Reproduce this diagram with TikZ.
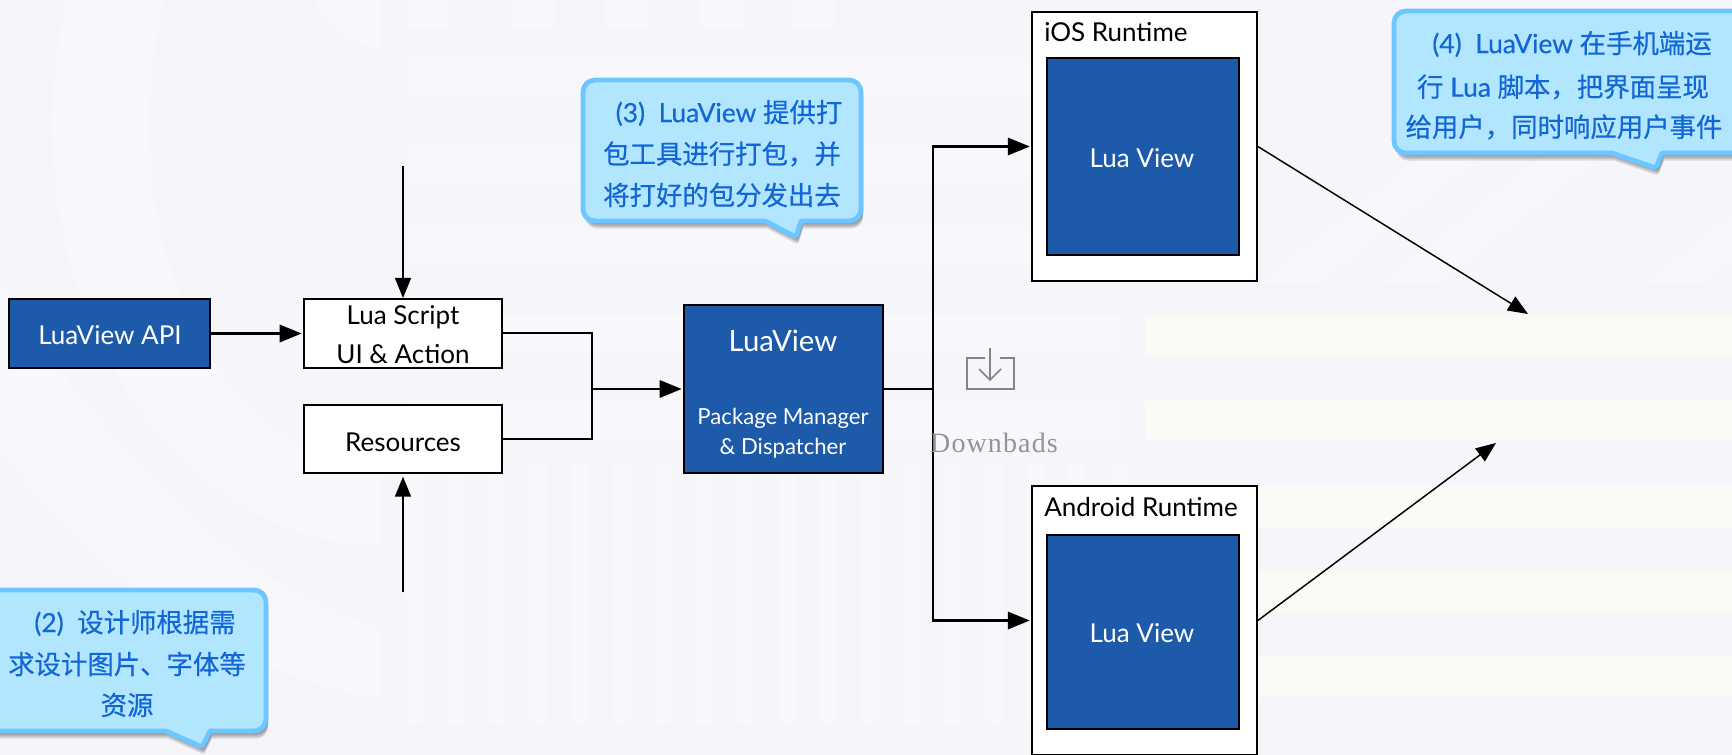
\documentclass[tikz,border=0pt]{standalone}
\usepackage{fontspec}
\usetikzlibrary{arrows.meta,calc}
\setmainfont{Lato}
\newfontfamily\cjk[FakeBold=0.5]{Noto Sans CJK SC}
\newfontfamily\calllatin[FakeBold=0.4]{Lato}
\newfontfamily\dlfont[LetterSpace=4]{Liberation Serif}
\newcommand{\zh}[1]{{\cjk #1}}
\newcommand{\fsz}[1]{\fontsize{#1}{#1}\selectfont}
\definecolor{bgbase}{HTML}{F5F5FA}
\definecolor{bglight}{HTML}{F8F8FC}
\definecolor{bgyellow}{HTML}{FAFBF6}
\definecolor{navy}{HTML}{1E5AAA}
\definecolor{callfill}{HTML}{B2E6FF}
\definecolor{callline}{HTML}{6CC6FF}
\definecolor{calltext}{HTML}{1266D6}
\tikzset{
  x=0.75pt,y=-0.75pt,
  whitebox/.style={draw=black,fill=white,line width=1.5pt,inner sep=0pt,anchor=center},
  bluebox/.style={draw=black,fill=navy,line width=1.5pt,inner sep=0pt,anchor=center},
  frame/.style={draw=black,fill=white,line width=1.3pt,inner sep=0pt,anchor=center},
  wlabel/.style={text=white,inner sep=0pt,font=\fsz{19.5}},
  blabel/.style={text=black,inner sep=0pt,font=\fsz{19.5}},
  link/.style={draw=black,line width=1.5pt},
  flow/.style={draw=black,line width=1.7pt,-{Triangle[length=16.5pt,width=13pt]},shorten >=1pt},
  thin flow/.style={draw=black,line width=1.1pt,-{Triangle[length=15pt,width=12pt]}},
  calltxt/.style={text=calltext,inner sep=0pt,align=center,font=\calllatin\fsz{19.8},anchor=center},
  bgbar/.style={fill=bglight,draw=none},
  ybar/.style={fill=bgyellow,draw=none},
  icon/.style={draw=black!48,line width=1.4pt},
}
% callout: left,top,right,bottom,tail start x,tail end x,tip x,tip y
\newcommand{\calloutpath}[8]{
  [rounded corners=9pt] (#1,#4) -- (#1,#2) -- (#3,#2) -- (#3,#4)
  [sharp corners] -- (#6,#4) [rounded corners=2pt] -- (#7,#8) [sharp corners] -- (#5,#4)
  [rounded corners=9pt] -- cycle
}
\newcommand{\callout}[8]{
  \foreach \o in {1,2,3,4,5}{
    \fill[black,opacity=0.11,xshift=1.6pt,yshift={-\o*1.15pt}] \calloutpath{#1}{#2}{#3}{#4}{#5}{#6}{#7}{#8};
  }
  \draw[fill=callfill,draw=callline,line width=3.6pt,line join=round] \calloutpath{#1}{#2}{#3}{#4}{#5}{#6}{#7}{#8};
}
\begin{document}
\begin{tikzpicture}
\useasboundingbox (0,0) rectangle (1732,755);
\fill[bgbase] (0,0) rectangle (1732,755);
% faint watermark
\begin{scope}
\clip (0,0) rectangle (381,755);
\fill[bglight,even odd rule] (381,125) ellipse [x radius=329,y radius=420] (381,125) ellipse [x radius=232,y radius=340];
\end{scope}
\fill[bglight] (381,47) arc[start angle=90,end angle=270,x radius=72,y radius=78] -- cycle;
\fill[bglight] (0,280) .. controls (120,470) and (250,590) .. (381,628) -- (381,700) .. controls (220,670) and (90,570) .. (0,450) -- cycle;
\foreach \a/\b in {408/450,510/555,605/650,700/745,790/835}{\fill[bgbar] (\a,0) rectangle (\b,28);}
\foreach \a/\b in {57/97,143/182,226/265,315/353,400/441}{\fill[bgbar] (408,\a) rectangle (1120,\b);}
\foreach \i in {0,...,17}{\fill[bgbar] ({406+41.4*\i},463) rectangle ({423+41.4*\i},724);}
\foreach \a/\b in {315/356,401/441,485/528,571/613,657/697}{\fill[ybar] (1145,\a) rectangle (1732,\b);}
\foreach \a in {1260,1380,1645}{\fill[bglight] (\a,283) -- ({\a+60},283) -- ({\a+340},64) -- ({\a+280},64) -- cycle;}
% callouts
\callout{583}{80}{861}{221}{765}{801}{796}{237}
\callout{1394}{11}{1745}{153}{1612}{1662}{1656}{168}
\callout{-20}{590}{266}{731}{166}{210}{202}{747}
\node[calltxt] (c3a) at (729,113) {(3)\ \ LuaView \zh{提供打}};
\node[calltxt] (c3b) at (722,154) {\zh{包工具进行打包，并}};
\node[calltxt] (c3c) at (722,195) {\zh{将打好的包分发出去}};
\node[calltxt] (c4a) at (1572,44) {(4)\ \ LuaView \zh{在手机端运}};
\node[calltxt] (c4b) at (1563,87) {\zh{行} Lua \zh{脚本，把界面呈现}};
\node[calltxt] (c4c) at (1564,127) {\zh{给用户，同时响应用户事件}};
\node[calltxt] (c2a) at (135,623) {(2)\ \ \zh{设计师根据需}};
\node[calltxt] (c2b) at (127,664) {\zh{求设计图片、字体等}};
\node[calltxt] (c2c) at (127,705) {\zh{资源}};
% boxes
\node[bluebox,minimum width=201pt*0.75,minimum height=69pt*0.75] (api) at (109.5,333.5) {};
\node[wlabel] at (110,335) {LuaView API};
\node[whitebox,minimum width=198pt*0.75,minimum height=69pt*0.75] (script) at (403,333.5) {};
\node[blabel] at (403,317) {Lua Script};
\node[blabel] at (403,354) {UI \& Action};
\node[whitebox,minimum width=198pt*0.75,minimum height=68pt*0.75] (res) at (403,439) {};
\node[blabel] at (403,442) {Resources};
\node[bluebox,minimum width=199pt*0.75,minimum height=168pt*0.75] (pkg) at (783.5,389) {};
\node[wlabel,font=\fsz{22}] at (783,341) {LuaView};
\node[wlabel,font=\fsz{16.6}] at (783,418) {Package Manager};
\node[wlabel,font=\fsz{16.6}] at (783,448) {\& Dispatcher};
\node[frame,minimum width=225pt*0.75,minimum height=269pt*0.75] (ios) at (1144.5,146.5) {};
\node[blabel,anchor=west] at (1044,32) {iOS Runtime};
\node[bluebox,minimum width=192pt*0.75,minimum height=197pt*0.75] (iosv) at (1143,156.5) {};
\node[wlabel] at (1142,158) {Lua View};
\node[frame,minimum width=225pt*0.75,minimum height=269pt*0.75] (droid) at (1144.5,620.5) {};
\node[blabel,anchor=west] at (1044,507) {Android Runtime};
\node[bluebox,minimum width=192pt*0.75,minimum height=194pt*0.75] (droidv) at (1143,632) {};
\node[wlabel] at (1142,633) {Lua View};
% connectors
\coordinate (topin) at (403,166);
\coordinate (botin) at (403,592);
\coordinate (merge) at (592,389);
\coordinate (bus) at (933,389);
\coordinate (iosout) at (1528,314);
\coordinate (droidout) at (1496,443);
\draw[flow] (api) -- (script);
\draw[thin flow] (topin) -- (script.north);
\draw[thin flow,shorten >=2pt] (botin) -- (res.south);
\draw[link] (script.east) -| (merge);
\draw[link] (res.east) -| (merge);
\draw[flow] (merge) -- (pkg.west);
\draw[link] (pkg.east) -- (bus);
\draw[flow] (bus) |- (ios.west);
\draw[flow] (bus) |- (droid.west);
\draw[thin flow] (ios.east) -- (iosout);
\draw[thin flow] (droid.east) -- (droidout);
% downloads icon
\draw[icon] (985,358) -- (967,358) -- (967,389) -- (1014,389) -- (1014,358) -- (1000,358);
\draw[icon,line width=1.1pt] (990,348) -- (990,380);
\draw[icon,line width=1.1pt] (979,369) -- (990,380) -- (1001,369);
\node[inner sep=0pt,text=black!42,font=\dlfont\fsz{21}] (dl) at (994,443) {Downbads};
\end{tikzpicture}
\end{document}
